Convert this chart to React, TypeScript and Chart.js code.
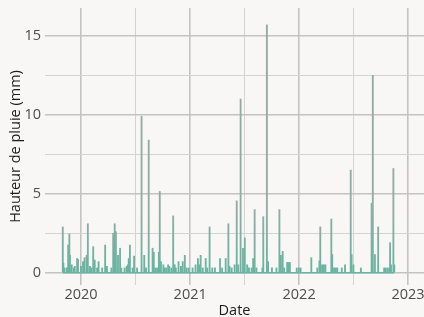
import { useEffect, useRef } from "react";
import { Chart, registerables } from "chart.js";

Chart.register(...registerables);

// Daily rainfall (mm), days with rain
const rainDates = [
  "2019-11-01", "2019-11-03", "2019-11-07", "2019-11-15", "2019-11-19", "2019-11-23", "2019-11-25",
  "2019-12-01", "2019-12-08", "2019-12-11", "2019-12-19", "2019-12-22", "2020-01-01", "2020-01-08",
  "2020-01-13", "2020-01-20", "2020-01-24", "2020-01-31", "2020-02-05", "2020-02-11", "2020-02-16",
  "2020-02-24", "2020-02-29", "2020-03-12", "2020-03-22", "2020-03-28", "2020-04-12", "2020-04-18",
  "2020-04-23", "2020-04-27", "2020-05-04", "2020-05-11", "2020-05-15", "2020-05-26", "2020-06-02",
  "2020-06-06", "2020-06-09", "2020-06-13", "2020-06-22", "2020-06-27", "2020-07-07", "2020-07-22",
  "2020-07-31", "2020-08-06", "2020-08-15", "2020-08-28", "2020-09-01", "2020-09-06", "2020-09-12",
  "2020-09-18", "2020-09-21", "2020-09-25", "2020-10-03", "2020-10-06", "2020-10-12", "2020-10-19",
  "2020-10-23", "2020-10-30", "2020-11-05", "2020-11-10", "2020-11-14", "2020-11-23", "2020-12-01",
  "2020-12-07", "2020-12-14", "2020-12-20", "2020-12-27", "2021-01-09", "2021-01-19", "2021-01-27",
  "2021-01-31", "2021-02-05", "2021-02-12", "2021-02-22", "2021-02-27", "2021-03-07", "2021-03-16",
  "2021-03-25", "2021-04-11", "2021-04-18", "2021-04-30", "2021-05-09", "2021-05-13", "2021-05-20",
  "2021-05-30", "2021-06-06", "2021-06-11", "2021-06-19", "2021-06-27", "2021-07-03", "2021-07-11",
  "2021-07-17", "2021-07-26", "2021-07-31", "2021-08-05", "2021-08-11", "2021-08-31", "2021-09-03",
  "2021-09-15", "2021-09-19", "2021-10-02", "2021-10-17", "2021-10-27", "2021-11-01", "2021-11-07",
  "2021-11-12", "2021-11-22", "2021-11-27", "2021-12-01", "2021-12-24", "2021-12-31", "2022-01-06",
  "2022-02-11", "2022-03-03", "2022-03-10", "2022-03-13", "2022-03-19", "2022-03-25", "2022-03-30",
  "2022-04-19", "2022-04-22", "2022-04-28", "2022-05-04", "2022-05-09", "2022-05-24", "2022-06-04",
  "2022-06-23", "2022-06-26", "2022-07-02", "2022-07-27", "2022-09-01", "2022-09-05", "2022-09-12",
  "2022-09-23", "2022-10-13", "2022-10-18", "2022-10-24", "2022-10-30", "2022-11-02", "2022-11-05",
  "2022-11-13", "2022-11-16",
];
const rainMm = [
  2.9, 0.6, 0.3, 0.3, 1.75, 2.45, 1.1,
  0.5, 0.3, 0.4, 0.9, 0.85, 0.4, 0.7,
  0.95, 1.1, 3.1, 0.4, 0.3, 1.65, 0.8,
  0.3, 0.7, 0.3, 1.75, 0.4, 0.3, 2.5,
  3.1, 2.6, 1.1, 1.55, 0.3, 0.3, 0.4,
  0.5, 0.9, 1.75, 0.3, 1.05, 0.3, 9.9,
  1.1, 0.3, 8.4, 1.55, 1.3, 0.3, 0.3,
  1.3, 5.15, 0.7, 0.5, 0.3, 0.3, 0.5,
  0.4, 0.3, 3.6, 0.5, 0.3, 0.7, 0.4,
  0.7, 1.1, 0.3, 0.3, 0.3, 0.5, 0.9,
  0.5, 1.1, 0.3, 0.9, 0.3, 2.9, 0.3,
  0.3, 0.9, 0.3, 0.9, 3.1, 0.4, 0.3,
  0.5, 4.55, 0.5, 11.0, 1.55, 2.2, 0.5,
  0.3, 0.3, 0.9, 4.0, 0.3, 0.3, 3.55,
  15.7, 0.7, 0.3, 0.3, 4.0, 1.1, 1.35,
  0.3, 0.65, 0.65, 0.65, 0.3, 0.3, 0.3,
  0.95, 0.3, 0.75, 2.9, 0.5, 0.5, 0.5,
  3.4, 1.15, 0.3, 0.3, 0.3, 0.3, 0.5,
  6.5, 1.15, 0.5, 0.3, 4.4, 12.5, 1.15,
  2.9, 0.3, 0.3, 0.3, 0.3, 1.9, 0.5,
  6.6, 0.5,
];
const xTickDates = [
  "2020-01-01", "2020-07-01", "2021-01-01", "2021-07-01",
  "2022-01-01", "2022-07-01", "2023-01-01",
];
const yTickValues = [0, 2.5, 5, 7.5, 10, 12.5, 15];

const BG = "#f8f7f5";
const FONT = "'Open Sans', 'Noto Sans', sans-serif";
const toMs = (s: string) => Date.parse(s + "T00:00:00Z");
const DAY = 86400000;

export default function App() {
  const ref = useRef<HTMLCanvasElement>(null);

  useEffect(() => {
    document.body.style.margin = "0";
    document.body.style.background = BG;
    const canvas = ref.current!;
    const bgPlugin = {
      id: "bg",
      beforeDraw(c: any) {
        const g = c.ctx;
        g.save();
        g.fillStyle = BG;
        g.fillRect(0, 0, c.width, c.height);
        g.restore();
      },
    };
    const points = rainDates.map((d, i) => ({ x: toMs(d), y: rainMm[i] }));
    const x0 = toMs("2020-01-01");

    const isMajorX = (v: number) => new Date(v).getUTCMonth() === 0;
    const chart = new Chart(canvas, {
      type: "bar",
      data: {
        datasets: [
          {
            type: "line",
            data: [
              { x: toMs(rainDates[0]), y: 0 },
              { x: toMs(rainDates[rainDates.length - 1]), y: 0 },
            ],
            borderColor: "#69b3a2",
            borderWidth: 1.5,
            pointRadius: 0,
            order: 0,
          } as any,
          {
            type: "bar",
            data: points,
            barThickness: 1.2,
            order: 1,
            backgroundColor: (c: any) => {
              const ch = c.chart;
              const ys = ch.scales.y;
              if (!ch.chartArea || !ys) return "#6fb2a2";
              const g = ch.ctx.createLinearGradient(
                0,
                ys.getPixelForValue(0),
                0,
                ys.getPixelForValue(4)
              );
              g.addColorStop(0, "#66b4a0");
              g.addColorStop(1, "#92aba5");
              return g;
            },
          } as any,
        ],
      },
      options: {
        animation: false,
        responsive: false,
        devicePixelRatio: 1,
        layout: { padding: { top: 8, left: 0, right: 0, bottom: 0 } },
        plugins: { legend: { display: false }, tooltip: { enabled: false } },
        scales: {
          x: {
            type: "linear",
            offset: false,
            min: x0 - 120.6 * DAY,
            max: x0 + 1149.6 * DAY,
            afterBuildTicks: (s: any) => {
              s.ticks = xTickDates.map((d) => ({ value: toMs(d) }));
            },
            afterFit: (s: any) => {
              s.height = 32;
              s.paddingLeft = 0;
              s.paddingRight = 0;
            },
            ticks: {
              autoSkip: false,
              maxRotation: 0,
              minRotation: 0,
              padding: 1,
              color: "#4d4d4d",
              font: { family: FONT, size: 14.5, lineHeight: 1.2 },
              callback: (v: any) => {
                const d = new Date(Number(v));
                return d.getUTCMonth() === 0 ? String(d.getUTCFullYear()) : "";
              },
            },
            grid: {
              offset: false,
              drawTicks: false,
              color: (c: any) => (isMajorX(c.tick.value) ? "#c3c3c3" : "#d3d3d3"),
              lineWidth: (c: any) => (isMajorX(c.tick.value) ? 1.6 : 1),
            },
            border: { display: false },
            title: {
              display: true,
              text: "Date",
              color: "#1a1a1a",
              font: { family: FONT, size: 14.5, lineHeight: 1.2 },
              padding: { top: 0, bottom: -2.5 },
            },
          } as any,
          y: {
            type: "linear",
            min: -0.78,
            max: 16.77,
            afterBuildTicks: (s: any) => {
              s.ticks = yTickValues.map((v) => ({ value: v }));
            },
            afterFit: (s: any) => {
              s.width = 45;
              s.paddingTop = 0;
              s.paddingBottom = 0;
            },
            ticks: {
              padding: 4,
              color: "#4d4d4d",
              font: { family: FONT, size: 14.5, lineHeight: 1.2 },
              callback: (v: any) => (Number(v) % 5 === 0 ? String(v) : ""),
            },
            grid: {
              drawTicks: false,
              color: (c: any) => (c.tick.value % 5 === 0 ? "#c3c3c3" : "#d3d3d3"),
              lineWidth: (c: any) => (c.tick.value % 5 === 0 ? 1.6 : 1),
            },
            border: { display: false },
            title: {
              display: true,
              text: "Hauteur de pluie (mm)",
              color: "#1a1a1a",
              font: { family: FONT, size: 14.5, lineHeight: 1.2 },
              padding: { top: 7, bottom: 0 },
            },
          } as any,
        },
      },
      plugins: [bgPlugin],
    });
    return () => chart.destroy();
  }, []);

  return (
    <div style={{ width: 424, height: 317 }}>
      <canvas ref={ref} width={424} height={317} style={{ display: "block" }} />
    </div>
  );
}
